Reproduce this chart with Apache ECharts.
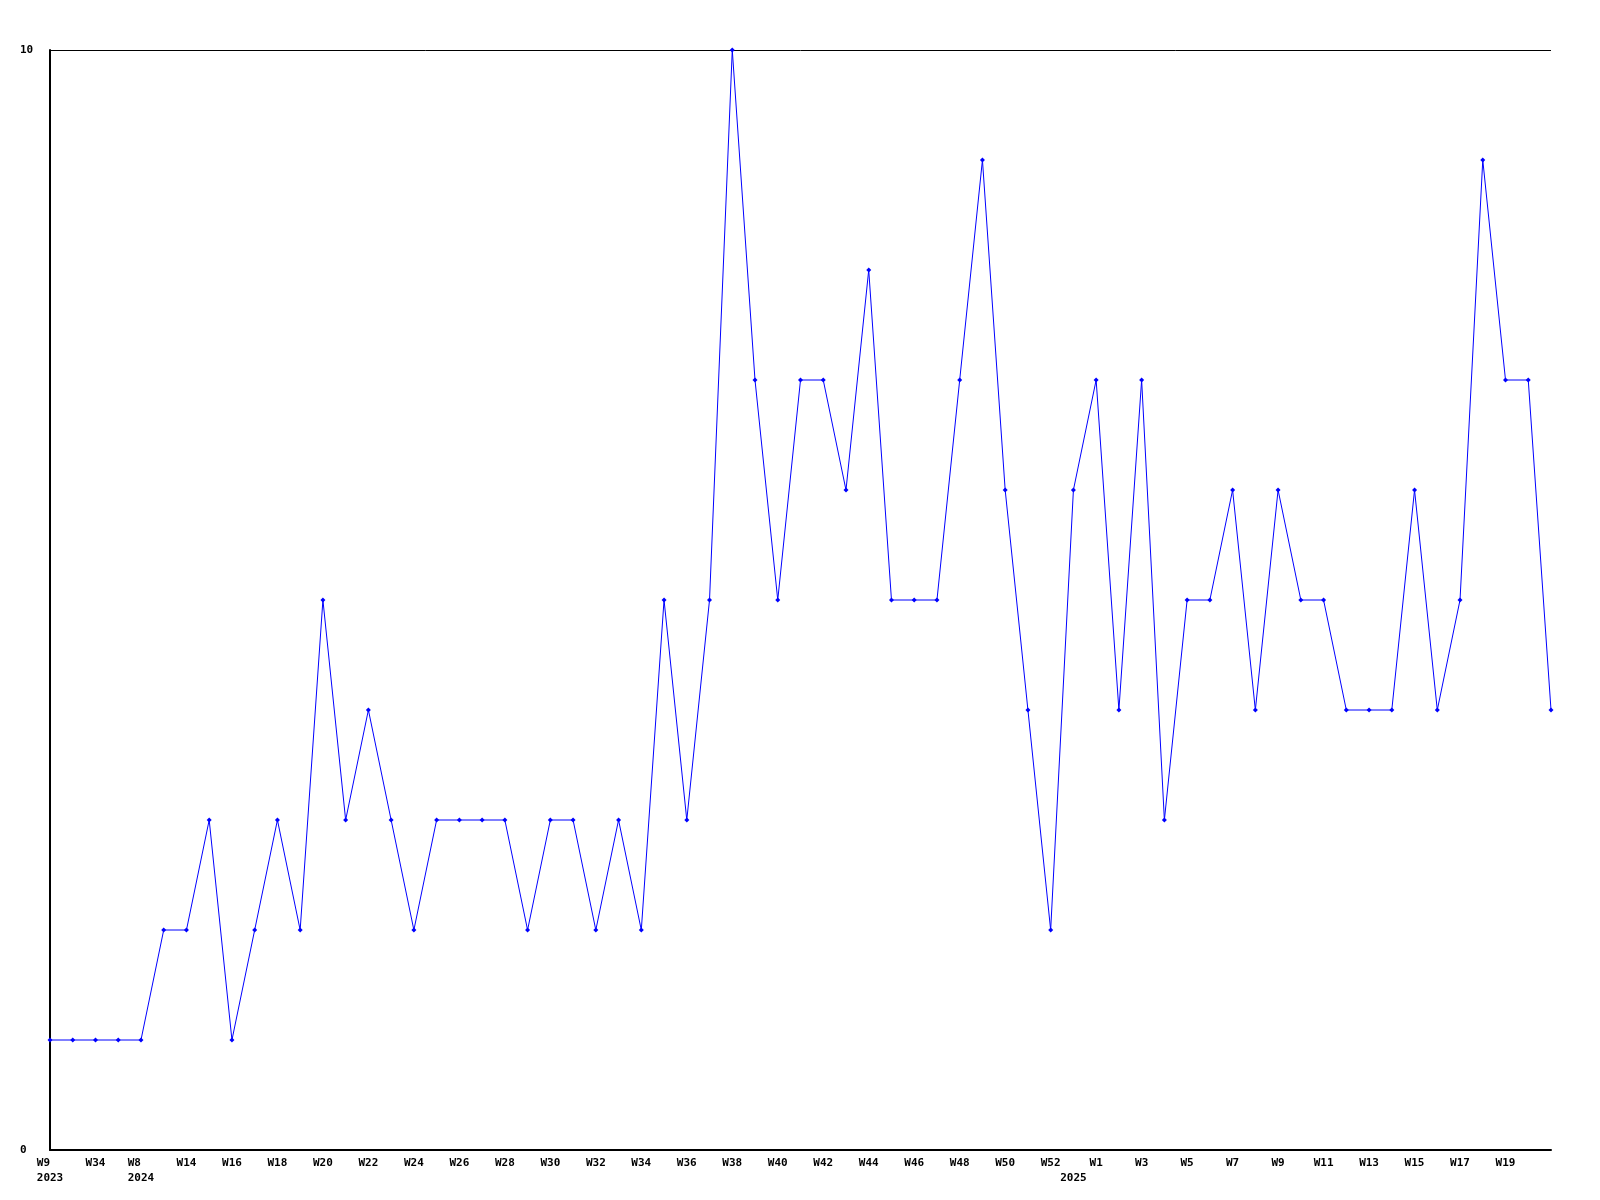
<!DOCTYPE html>
<html><head><meta charset="utf-8">
<script src="https://cdn.jsdelivr.net/npm/echarts@6/dist/echarts.min.js"></script>
<style>html,body{margin:0;padding:0;background:#fff}#c{width:1600px;height:1200px}</style>
</head><body><div id="c"></div>
<script>
const weekLabels = ["W9","W33","W34","W7","W8","W13","W14","W15","W16","W17","W18","W19","W20","W21","W22","W23","W24","W25","W26","W27","W28","W29","W30","W31","W32","W33","W34","W35","W36","W37","W38","W39","W40","W41","W42","W43","W44","W45","W46","W47","W48","W49","W50","W51","W52","W53","W1","W2","W3","W4","W5","W6","W7","W8","W9","W10","W11","W12","W13","W14","W15","W16","W17","W18","W19","W20","W21"];
const yearLabels = {0:"2023",4:"2024",45:"2025"};
const values = [1,1,1,1,1,2,2,3,1,2,3,2,5,3,4,3,2,3,3,3,3,2,3,3,2,3,2,5,3,5,10,7,5,7,7,6,8,5,5,5,7,9,6,4,2,6,7,4,7,3,5,5,6,4,6,5,5,4,4,4,6,4,5,9,7,7,4];
const yTicks = [0,10];

const cats = weekLabels.map((w,i)=> i + "|" + w);
const chart = echarts.init(document.getElementById('c'));
const font = '"DejaVu Sans Mono", monospace';
chart.setOption({
  animation:false,
  backgroundColor:'#fff',
  grid:{left:50,right:49,top:50,bottom:50},
  xAxis:{
    type:'category', data:cats, boundaryGap:false,
    axisLine:{show:true,lineStyle:{color:'#000',width:2}},
    axisTick:{show:false},
    splitLine:{show:false},
    axisLabel:{
      interval:0, margin:6, color:'#000', fontFamily:font, fontWeight:'bold', fontSize:11, lineHeight:15,
      formatter:(v,i)=>{
        let w = (i%2===0 && i<66) ? weekLabels[i] : '';
        const y = yearLabels[i] || '';
        if(!w && !y) return '';
        if(!y) return w;
        if(!w) return '\n' + y;
        while(w.length < y.length) w += ' ';
        return w + '\n' + y;
      },
      verticalAlign:'top'
    }
  },
  yAxis:{
    type:'value', min:yTicks[0], max:yTicks[1], interval:10,
    axisLine:{show:true,lineStyle:{color:'#000',width:2}},
    axisTick:{show:false},
    splitLine:{show:true,lineStyle:{color:'#000',width:1}},
    axisLabel:{color:'#000',fontFamily:font,fontWeight:'bold',fontSize:11,align:'left',margin:30}
  },
  series:[{
    type:'line', data:values,
    symbol:'diamond', symbolSize:5, showAllSymbol:true,
    lineStyle:{color:'#0000ff',width:1},
    itemStyle:{color:'#0000ff'}
  }]
});
</script></body></html>
